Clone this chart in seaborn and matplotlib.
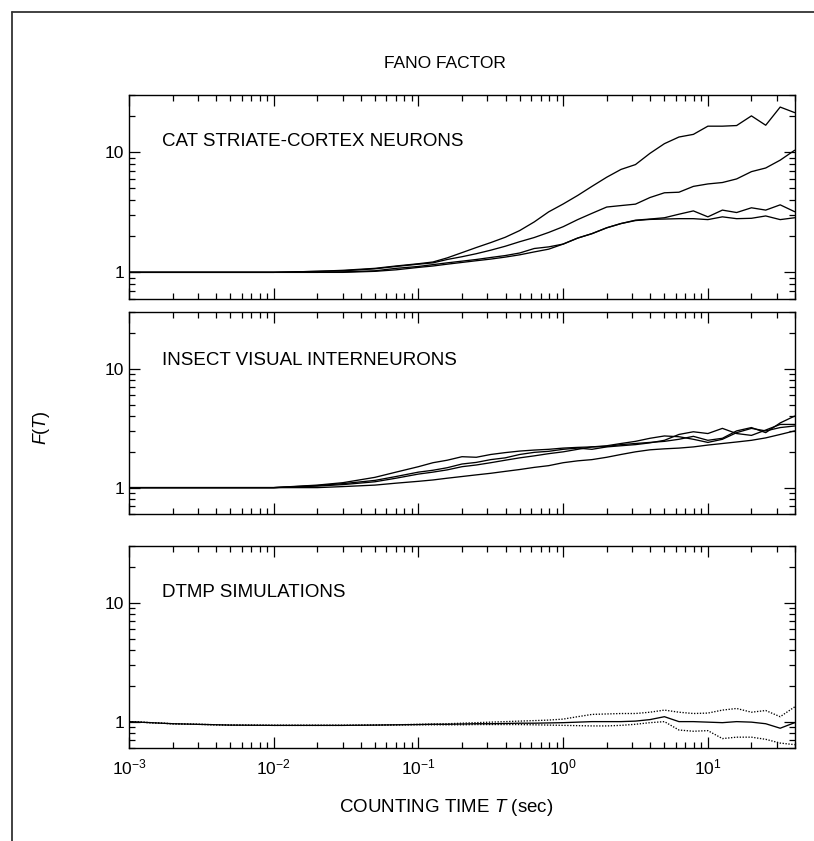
import numpy as np
import pandas as pd
import matplotlib
matplotlib.use("Agg")
import matplotlib.pyplot as plt
import seaborn as sns
from matplotlib.ticker import FixedLocator, FixedFormatter, LogLocator, NullFormatter
from matplotlib.lines import Line2D

sns.set_theme(style="ticks")
plt.rcParams['font.family'] = ['Liberation Sans', 'DejaVu Sans']
plt.rcParams['mathtext.fontset'] = 'custom'
plt.rcParams['mathtext.rm'] = 'Liberation Sans'
plt.rcParams['mathtext.it'] = 'Liberation Sans:italic'

# ---- data ----
T = [0.001, 0.002, 0.005, 0.01, 0.02, 0.03, 0.05, 0.07,
     0.1, 0.126, 0.158, 0.2, 0.251, 0.316, 0.398, 0.501, 0.631, 0.794,
     1.0, 1.26, 1.58, 2.0, 2.51, 3.16, 3.98, 5.01, 6.31, 7.94,
     10.0, 12.6, 15.8, 20.0, 25.1, 31.6, 39.8]

cat_a = [1.0, 1.0, 1.0, 1.0, 1.02, 1.04, 1.08, 1.13,
         1.18, 1.22, 1.32, 1.46, 1.61, 1.77, 1.96, 2.23, 2.63, 3.19,
         3.71, 4.37, 5.2, 6.2, 7.2, 7.9, 9.8, 11.8, 13.4, 14.1,
         16.5, 16.5, 16.7, 20.1, 16.8, 23.8, 21.4]
cat_b = [1.0, 1.0, 1.0, 1.0, 1.02, 1.03, 1.07, 1.12,
         1.17, 1.2, 1.28, 1.35, 1.43, 1.53, 1.65, 1.8, 1.95, 2.15,
         2.4, 2.75, 3.1, 3.5, 3.6, 3.7, 4.2, 4.6, 4.65, 5.2,
         5.45, 5.6, 6.0, 6.9, 7.4, 8.6, 10.4]
cat_c = [1.0, 1.0, 1.0, 1.0, 1.0, 1.01, 1.03, 1.08,
         1.12, 1.16, 1.2, 1.24, 1.28, 1.33, 1.38, 1.45, 1.58, 1.63,
         1.72, 1.93, 2.1, 2.35, 2.55, 2.72, 2.78, 2.85, 3.05, 3.25,
         2.9, 3.3, 3.15, 3.45, 3.3, 3.65, 3.2]
cat_d = [1.0, 1.0, 1.0, 1.0, 1.0, 1.0, 1.02, 1.05,
         1.1, 1.13, 1.17, 1.21, 1.25, 1.29, 1.34, 1.4, 1.48, 1.56,
         1.72, 1.93, 2.1, 2.35, 2.55, 2.7, 2.76, 2.78, 2.8, 2.8,
         2.75, 2.9, 2.8, 2.82, 2.95, 2.75, 2.85]

ins_a = [1.0, 1.0, 1.0, 1.0, 1.05, 1.1, 1.22, 1.35,
         1.5, 1.62, 1.7, 1.82, 1.8, 1.9, 1.97, 2.03, 2.07, 2.1,
         2.15, 2.18, 2.2, 2.25, 2.35, 2.45, 2.6, 2.72, 2.68, 2.55,
         2.4, 2.55, 2.9, 3.15, 3.0, 3.2, 3.3]
ins_b = [1.0, 1.0, 1.0, 1.0, 1.04, 1.08, 1.15, 1.24,
         1.35, 1.4, 1.47, 1.58, 1.63, 1.72, 1.78, 1.9, 1.98, 2.02,
         2.1, 2.15, 2.1, 2.2, 2.25, 2.3, 2.38, 2.5, 2.8, 2.95,
         2.85, 3.15, 2.85, 2.75, 3.05, 3.4, 3.4]
ins_c = [1.0, 1.0, 1.0, 1.0, 1.03, 1.06, 1.12, 1.2,
         1.3, 1.35, 1.41, 1.5, 1.55, 1.62, 1.7, 1.78, 1.85, 1.93,
         2.0, 2.1, 2.2, 2.22, 2.3, 2.35, 2.4, 2.45, 2.55, 2.7,
         2.5, 2.6, 3.0, 3.2, 2.9, 3.5, 4.0]
ins_d = [1.0, 1.0, 1.0, 1.0, 1.0, 1.02, 1.05, 1.09,
         1.13, 1.16, 1.2, 1.24, 1.28, 1.32, 1.37, 1.42, 1.48, 1.53,
         1.62, 1.68, 1.72, 1.8, 1.9, 2.0, 2.08, 2.12, 2.15, 2.2,
         2.28, 2.35, 2.42, 2.5, 2.62, 2.8, 3.0]

dtmp_mean = [1.0, 0.96, 0.935, 0.93, 0.93, 0.93, 0.935, 0.94,
             0.945, 0.95, 0.95, 0.955, 0.96, 0.96, 0.965, 0.97, 0.97, 0.975,
             0.98, 0.99, 1.0, 1.0, 1.0, 1.01, 1.04, 1.1, 1.0, 1.0,
             0.99, 0.98, 1.0, 0.99, 0.96, 0.88, 0.98]
dtmp_upper = [1.0, 0.96, 0.935, 0.93, 0.93, 0.93, 0.935, 0.94,
              0.95, 0.955, 0.96, 0.97, 0.98, 0.99, 1.0, 1.01, 1.02, 1.03,
              1.05, 1.1, 1.15, 1.16, 1.17, 1.17, 1.2, 1.25, 1.2, 1.17,
              1.18, 1.25, 1.29, 1.2, 1.24, 1.1, 1.33]
dtmp_lower = [1.0, 0.96, 0.935, 0.93, 0.93, 0.93, 0.935, 0.94,
              0.94, 0.94, 0.94, 0.94, 0.945, 0.945, 0.945, 0.945, 0.94, 0.935,
              0.93, 0.925, 0.92, 0.92, 0.93, 0.95, 0.98, 1.0, 0.85, 0.83,
              0.84, 0.72, 0.74, 0.74, 0.71, 0.66, 0.64]

panel_labels = ["CAT STRIATE-CORTEX NEURONS", "INSECT VISUAL INTERNEURONS", "DTMP SIMULATIONS"]
x_ticks = [1e-3, 1e-2, 1e-1, 1e0, 1e1]
x_ticklabels = [r'$10^{-3}$', r'$10^{-2}$', r'$10^{-1}$', r'$10^{0}$', r'$10^{1}$']
y_ticks = [1, 10]
y_ticklabels = ["1", "10"]


def long_df(series):
    frames = []
    for name, vals in series.items():
        frames.append(pd.DataFrame({"T": T, "F": vals, "curve": name}))
    return pd.concat(frames, ignore_index=True)


df_cat = long_df({"a": cat_a, "b": cat_b, "c": cat_c, "d": cat_d})
df_ins = long_df({"a": ins_a, "b": ins_b, "c": ins_c, "d": ins_d})
df_dtmp = long_df({"mean": dtmp_mean, "upper": dtmp_upper, "lower": dtmp_lower})

W, H = 814, 841
fig = plt.figure(figsize=(W / 100, H / 100), dpi=100)

left_px, right_px = 129, 795
panels_px = [(95, 299), (312, 514), (546, 748)]
axes = []
for (top, bot) in panels_px:
    ax = fig.add_axes([left_px / W, 1 - bot / H, (right_px - left_px) / W, (bot - top) / H])
    axes.append(ax)

for ax in axes:
    ax.set_xscale('log')
    ax.set_yscale('log')

sns.lineplot(data=df_cat, x="T", y="F", units="curve", estimator=None, color="black",
             lw=0.95, ax=axes[0], legend=False, sort=False)
sns.lineplot(data=df_ins, x="T", y="F", units="curve", estimator=None, color="black",
             lw=0.95, ax=axes[1], legend=False, sort=False)
sns.lineplot(data=df_dtmp, x="T", y="F", style="curve", units="curve", estimator=None,
             color="black", lw=0.95, ax=axes[2], legend=False, sort=False,
             dashes={"mean": "", "upper": (1, 1.2), "lower": (1, 1.2)})

for i, ax in enumerate(axes):
    ax.set_xlim(1e-3, 40)
    ax.set_ylim(0.6, 30)
    ax.set_xlabel("")
    ax.set_ylabel("")
    for s in ax.spines.values():
        s.set_visible(True)
        s.set_linewidth(1.0)
        s.set_color("black")
    ax.xaxis.set_major_locator(FixedLocator(x_ticks))
    ax.xaxis.set_minor_locator(LogLocator(base=10, subs=np.arange(2, 10)))
    ax.xaxis.set_minor_formatter(NullFormatter())
    ax.yaxis.set_major_locator(FixedLocator(y_ticks))
    ax.yaxis.set_major_formatter(FixedFormatter(y_ticklabels))
    ax.yaxis.set_minor_locator(LogLocator(base=10, subs=np.arange(2, 10)))
    ax.yaxis.set_minor_formatter(NullFormatter())
    ax.tick_params(which='both', direction='in', top=True, right=True, colors='black',
                   labelsize=12.5, width=0.9)
    ax.tick_params(which='major', length=8)
    ax.tick_params(which='minor', length=4)
    if i < 2:
        ax.set_xticklabels([])
    else:
        ax.xaxis.set_major_formatter(FixedFormatter(x_ticklabels))
        ax.tick_params(axis='x', pad=7)
    ax.text(0.0017, [12.2, 11.7, 12.1][i], panel_labels[i], ha='left', va='center',
            fontsize=13.5, color='black')

fig.text(445 / W, 1 - 64 / H, "FANO FACTOR", ha='center', va='center', fontsize=12.5, color='black')
fig.text(446 / W, 1 - 808 / H, r"COUNTING TIME $T$ (sec)", ha='center', va='center',
         fontsize=13.5, color='black')
fig.text(42 / W, 1 - 428 / H, r"$F$($T$)", ha='center', va='center', rotation=90,
         fontsize=13, color='black')

# scanned page border
fig.add_artist(Line2D([12 / W, 12 / W], [0, 1 - 12 / H], transform=fig.transFigure,
                      color='#333333', lw=1.3))
fig.add_artist(Line2D([12 / W, 1], [1 - 12 / H, 1 - 12 / H], transform=fig.transFigure,
                      color='#333333', lw=1.3))

fig.savefig("out.png", dpi=100, facecolor='white')
